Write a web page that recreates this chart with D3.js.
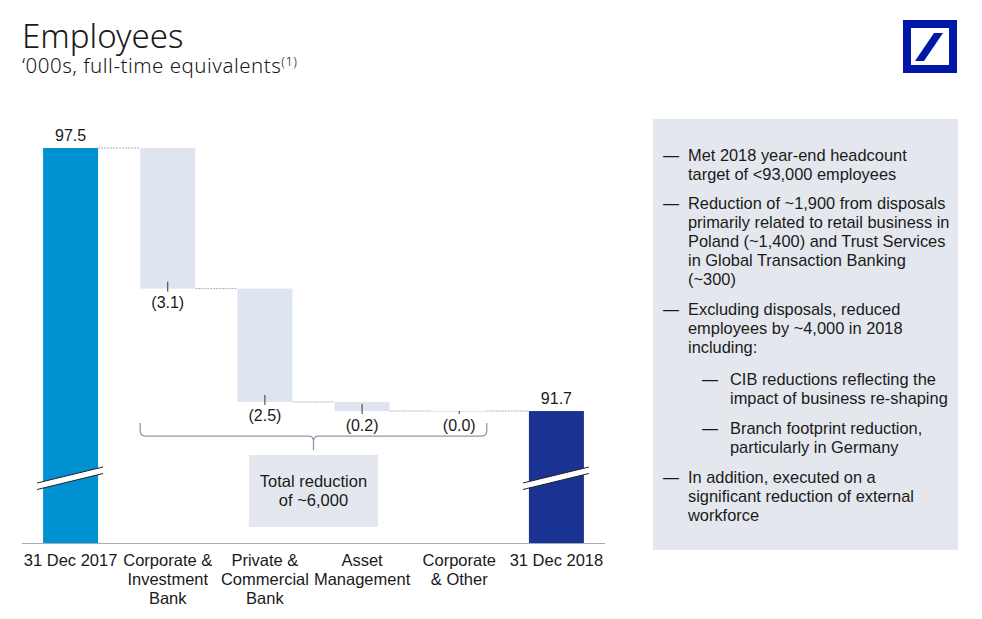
<!DOCTYPE html>
<html>
<head>
<meta charset="utf-8">
<script src="https://cdn.jsdelivr.net/npm/d3@7"></script>
<style>
  body { margin: 0; background: #fff; }
  svg { display: block; }
  text { font-family: "Liberation Sans", Arial, sans-serif; fill: #1a1a1a; }
  .title, .subtitle { font-family: "Noto Sans", sans-serif; font-weight: 300; }
</style>
</head>
<body>
<svg id="chart" width="982" height="619"></svg>
<script>
// --- data ---
const categories = [
  ["31 Dec 2017"],
  ["Corporate &", "Investment", "Bank"],
  ["Private &", "Commercial", "Bank"],
  ["Asset", "Management"],
  ["Corporate", "& Other"],
  ["31 Dec 2018"],
];
const values = [97.5, -3.1, -2.5, -0.2, -0.0, 91.7];
const kinds = ["total", "delta", "delta", "delta", "delta", "total"];
const valueLabels = ["97.5", "(3.1)", "(2.5)", "(0.2)", "(0.0)", "91.7"];
const bulletLines = [
  { level: 0, lines: ["Met 2018 year-end headcount", "target of <93,000 employees"] },
  { level: 0, lines: ["Reduction of ~1,900 from disposals", "primarily related to retail business in", "Poland (~1,400) and Trust Services", "in Global Transaction Banking", "(~300)"] },
  { level: 0, lines: ["Excluding disposals, reduced", "employees by ~4,000 in 2018", "including:"] },
  { level: 1, lines: ["CIB reductions reflecting the", "impact of business re-shaping"] },
  { level: 1, lines: ["Branch footprint reduction,", "particularly in Germany"] },
  { level: 0, lines: ["In addition, executed on a", "significant reduction of external", "workforce"] },
];
const totalNote = ["Total reduction", "of ~6,000"];

const svg = d3.select("#chart");

// --- header ---
svg.append("text").attr("class", "title")
  .attr("x", 22).attr("y", 48).attr("font-size", 33).text("Employees");
const sub = svg.append("text").attr("class", "subtitle")
  .attr("x", 22).attr("y", 73).attr("font-size", 20.5).attr("letter-spacing", 0.5);
sub.append("tspan").text("\u2018000s, full-time equivalents");
sub.append("tspan").attr("font-size", 13).attr("dy", -7).text("(1)");

// logo
const logo = svg.append("g").attr("transform", "translate(903,20)");
logo.append("rect").attr("x", 4).attr("y", 4).attr("width", 46).attr("height", 45)
  .attr("fill", "none").attr("stroke", "#0018a8").attr("stroke-width", 8);
logo.append("path").attr("d", "M31,13 L40,13 L21,41 L12,41 Z").attr("fill", "#0018a8");

// --- scales ---
const x = d3.scaleBand()
  .domain(d3.range(categories.length))
  .range([22, 605])
  .paddingInner(0.434)
  .paddingOuter(0.217);

const y = d3.scaleLinear().domain([88.79, 97.5]).range([543, 148]);

// compute waterfall steps
let running = 0;
const steps = values.map((v, i) => {
  let s;
  if (kinds[i] === "total") {
    s = { i, top: v, bottom: y.domain()[0], end: v };
    running = v;
  } else {
    const start = running;
    running = start + v;
    s = { i, top: start, bottom: running, end: running };
  }
  return s;
});

const colors = ["#0091d1", "#dfe5ef", "#dfe5ef", "#dfe5ef", "#dfe5ef", "#1a3392"];

// connectors
steps.slice(0, -1).forEach((s, k) => {
  svg.append("line")
    .attr("x1", x(s.i) + x.bandwidth()).attr("x2", x(s.i + 1))
    .attr("y1", y(s.end)).attr("y2", y(s.end))
    .attr("stroke", "#a9b1bd").attr("stroke-width", 1)
    .attr("stroke-dasharray", "2,1");
});

// bars
svg.selectAll(".bar").data(steps).enter().append("rect")
  .attr("class", "bar")
  .attr("x", d => x(d.i))
  .attr("width", x.bandwidth())
  .attr("y", d => y(d.top))
  .attr("height", d => Math.max(1, y(d.bottom) - y(d.top)))
  .attr("fill", (d, i) => colors[i]);

// baseline axis
svg.append("line")
  .attr("x1", 22).attr("x2", 605).attr("y1", 543.5).attr("y2", 543.5)
  .attr("stroke", "#a3acb9").attr("stroke-width", 1.2);

// break marks on total bars
steps.filter(d => kinds[d.i] === "total").forEach(d => {
  const x0 = x(d.i) - 6, x1 = x(d.i) + x.bandwidth() + 5;
  const yl = 483, yr = 467, gap = 6.5;
  svg.append("path")
    .attr("d", `M${x0},${yl} L${x1},${yr} L${x1},${yr + gap} L${x0},${yl + gap} Z`)
    .attr("fill", "#fff");
  [0, gap].forEach(o => svg.append("line")
    .attr("x1", x0).attr("y1", yl + o).attr("x2", x1).attr("y2", yr + o)
    .attr("stroke", "#222").attr("stroke-width", 1));
});

// value labels
steps.forEach(d => {
  const cx = x(d.i) + x.bandwidth() / 2;
  if (kinds[d.i] === "total") {
    svg.append("text").attr("x", cx).attr("y", y(d.top) - 7)
      .attr("text-anchor", "middle").attr("font-size", 16).text(valueLabels[d.i]);
  } else {
    const yb = y(d.bottom);
    svg.append("line").attr("x1", cx).attr("x2", cx)
      .attr("y1", Math.max(y(d.top), yb - 7)).attr("y2", yb + 3)
      .attr("stroke", "#333").attr("stroke-width", 1);
    svg.append("text").attr("x", cx).attr("y", yb + 19.5)
      .attr("text-anchor", "middle").attr("font-size", 16).text(valueLabels[d.i]);
  }
});

// category labels
categories.forEach((lines, i) => {
  const t = svg.append("text").attr("text-anchor", "middle").attr("font-size", 16.5);
  lines.forEach((l, j) => t.append("tspan")
    .attr("x", x(i) + x.bandwidth() / 2).attr("y", 566 + j * 19).text(l));
});

// bracket over the deltas
const bl = x(1), br = x(4) + x.bandwidth(), bc = (bl + br) / 2;
const byTop = y(91.7) + 12, byMid = byTop + 13, byTip = byMid + 14;
svg.append("path")
  .attr("d", `M${bl},${byTop} L${bl},${byMid - 5} Q${bl},${byMid} ${bl + 5},${byMid}
    L${bc - 5},${byMid} Q${bc},${byMid} ${bc},${byMid + 5} L${bc},${byTip}
    M${bc},${byMid + 5} Q${bc},${byMid} ${bc + 5},${byMid}
    L${br - 5},${byMid} Q${br},${byMid} ${br},${byMid - 5} L${br},${byTop}`)
  .attr("fill", "none").attr("stroke", "#8d99ab").attr("stroke-width", 1.3);

svg.append("rect").attr("x", bc - 64.5).attr("y", 455).attr("width", 129).attr("height", 72)
  .attr("fill", "#e4e8ee");
const note = svg.append("text").attr("text-anchor", "middle").attr("font-size", 16.5);
totalNote.forEach((l, j) => note.append("tspan").attr("x", bc).attr("y", 487 + j * 19).text(l));

// --- right panel ---
svg.append("rect").attr("x", 653).attr("y", 119).attr("width", 305).attr("height", 431)
  .attr("fill", "#e4e8ee");
const bulletY = [161, 209, 315, 385, 434, 483];
bulletLines.forEach((b, k) => {
  const dashX = b.level === 0 ? 663 : 702;
  const textX = b.level === 0 ? 688 : 730;
  svg.append("text").attr("x", dashX).attr("y", bulletY[k]).attr("font-size", 16).text("\u2014");
  const t = svg.append("text").attr("font-size", 16.4);
  b.lines.forEach((l, j) => t.append("tspan")
    .attr("x", textX).attr("y", bulletY[k] + j * 19).text(l));
});
</script>
</body>
</html>
